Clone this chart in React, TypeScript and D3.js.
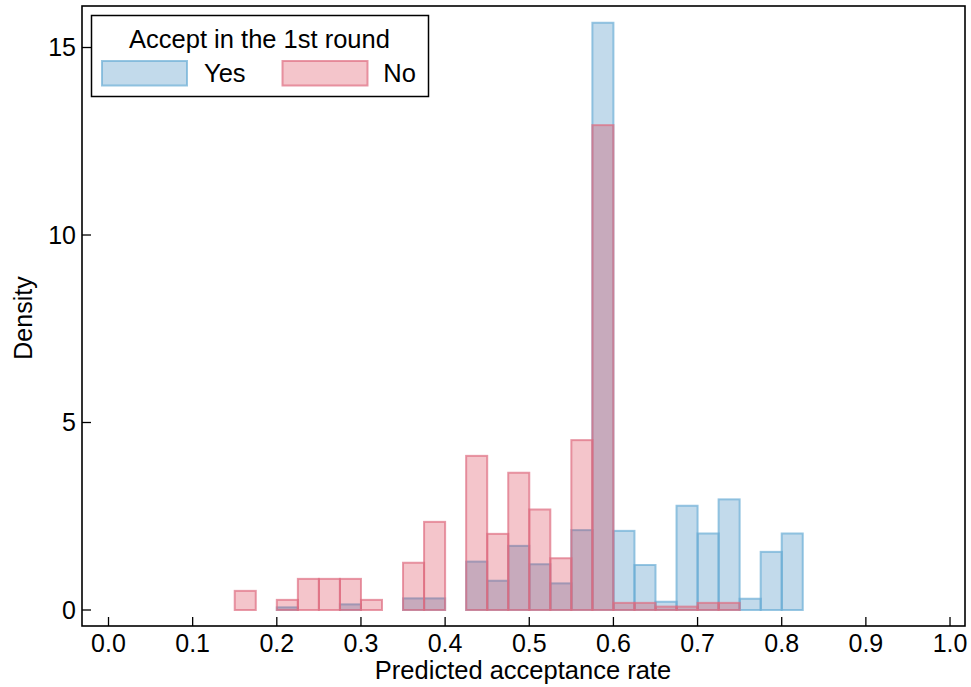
import React from 'react';
import * as d3 from 'd3';

const width = 971;
const height = 687;
const frame = { left: 82, right: 965, top: 6, bottom: 626 };
const binWidth = 0.025;

// left edge of each bin, density
const yesBins = [0.2, 0.275, 0.35, 0.375, 0.425, 0.45, 0.475, 0.5, 0.525, 0.55, 0.575, 0.6, 0.625, 0.65, 0.675, 0.7, 0.725, 0.75, 0.775, 0.8];
const yesDensity = [0.07, 0.15, 0.31, 0.31, 1.29, 0.78, 1.71, 1.22, 0.71, 2.13, 15.66, 2.11, 1.2, 0.22, 2.78, 2.04, 2.95, 0.3, 1.55, 2.04];

const noBins = [0.15, 0.2, 0.225, 0.25, 0.275, 0.3, 0.35, 0.375, 0.425, 0.45, 0.475, 0.5, 0.525, 0.55, 0.575, 0.6, 0.625, 0.65, 0.675, 0.7, 0.725];
const noDensity = [0.51, 0.27, 0.83, 0.83, 0.83, 0.27, 1.26, 2.35, 4.11, 2.03, 3.66, 2.68, 1.38, 4.53, 12.93, 0.19, 0.19, 0.09, 0.09, 0.19, 0.19];

const xTicks = [0, 0.1, 0.2, 0.3, 0.4, 0.5, 0.6, 0.7, 0.8, 0.9, 1.0];
const yTicks = [0, 5, 10, 15];

const series = [
  { name: 'Yes', bins: yesBins, values: yesDensity, fill: 'rgb(31,119,180)', stroke: 'rgba(107,174,214,0.7)' },
  { name: 'No', bins: noBins, values: noDensity, fill: 'rgb(214,39,64)', stroke: 'rgba(222,110,130,0.7)' },
];

const font = '"Liberation Sans", Arial, Helvetica, sans-serif';
const fs = 25;
const fsTitle = 25.5;

export default function App() {
  const x = d3.scaleLinear([-0.0315, 1.0178], [frame.left, frame.right]);
  const y = d3.scaleLinear([-0.4267, 16.107], [frame.bottom, frame.top]);

  return (
    <svg width={width} height={height} style={{ position: 'absolute', left: 0, top: 0 }} fontFamily={font}>
      <rect width={width} height={height} fill="#fff" />
      {series.map(s => (
        <g key={s.name}>
          {s.bins.map((b, i) => (
            <rect key={i}
              x={x(b)} width={x(b + binWidth) - x(b)}
              y={y(s.values[i])} height={y(0) - y(s.values[i])}
              fill={s.fill} fillOpacity={0.27}
              stroke={s.stroke} strokeWidth={2} />
          ))}
        </g>
      ))}
      <rect x={frame.left} y={frame.top} width={frame.right - frame.left} height={frame.bottom - frame.top}
        fill="none" stroke="#000" strokeWidth={1.6} />
      {xTicks.map(t => (
        <g key={t}>
          <line x1={x(t)} x2={x(t)} y1={frame.bottom} y2={frame.bottom - 9} stroke="#000" strokeWidth={1.3} />
          <text x={x(t)} y={652} textAnchor="middle" fontSize={fs}>{d3.format('.1f')(t)}</text>
        </g>
      ))}
      {yTicks.map(t => (
        <g key={t}>
          <line x1={frame.left} x2={frame.left + 9} y1={y(t)} y2={y(t)} stroke="#000" strokeWidth={1.3} />
          <text x={76} y={y(t)} dy="0.35em" textAnchor="end" fontSize={fs}>{t}</text>
        </g>
      ))}
      <text x={523} y={679} textAnchor="middle" fontSize={fsTitle}>Predicted acceptance rate</text>
      <text transform={`translate(32,${318}) rotate(-90)`} textAnchor="middle" fontSize={fs}>Density</text>

      <g>
        <rect x={91.5} y={15.5} width={337} height={81} fill="#fff" stroke="#000" strokeWidth={1.5} />
        <text x={259.5} y={48} textAnchor="middle" fontSize={fsTitle}>Accept in the 1st round</text>
        {series.map((s, i) => (
          <g key={s.name}>
            <rect x={102 + i * 180.5} y={61} width={85} height={24.5}
              fill={s.fill} fillOpacity={0.27} stroke={s.stroke} strokeWidth={2} />
            <text x={204 + i * 179.3} y={82} fontSize={fsTitle}>{s.name}</text>
          </g>
        ))}
      </g>
    </svg>
  );
}
